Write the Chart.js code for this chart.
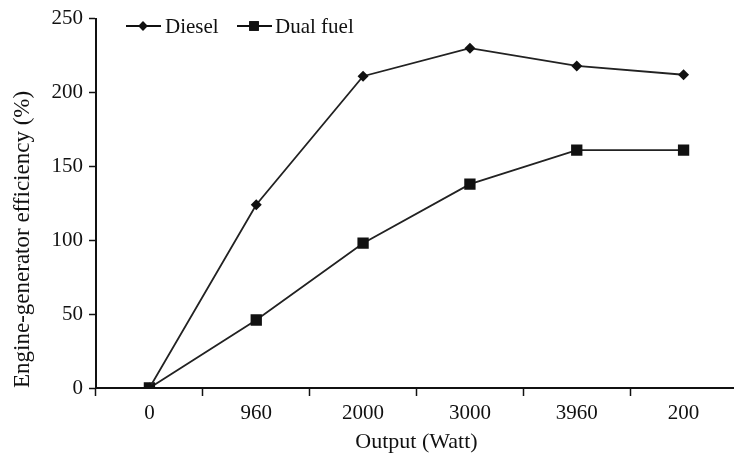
<!DOCTYPE html>
<html>
<head>
<meta charset="utf-8">
<script src="https://cdn.jsdelivr.net/npm/chart.js@4.4.0/dist/chart.umd.min.js"></script>
<style>
  html, body { margin: 0; padding: 0; background: #fff; overflow: hidden; }
  #wrap { width: 745px; height: 461px; }
</style>
</head>
<body>
<div id="wrap"><canvas id="effChart" width="745" height="461"></canvas></div>
<script>
// data
const outputs = ['0', '960', '2000', '3000', '3960', '200'];
const dieselEff = [0, 124, 211, 230, 218, 212];
const dualFuelEff = [0, 46, 98, 138, 161, 161];
const yTicks = [0, 50, 100, 150, 200, 250];

const ink = '#111';
const font = 'Liberation Serif, Times New Roman, serif';

// legend drawn inside the plot: line + marker + label
const insideLegend = {
    id: 'insideLegend',
    afterDraw(chart) {
        const ctx = chart.ctx;
        const y = 26;
        const items = [
            { x: 126, ds: chart.data.datasets[0], textX: 165 },
            { x: 237, ds: chart.data.datasets[1], textX: 275 }
        ];
        ctx.save();
        items.forEach(item => {
            ctx.strokeStyle = ink;
            ctx.lineWidth = 1.8;
            ctx.beginPath();
            ctx.moveTo(item.x, y);
            ctx.lineTo(item.x + 35, y);
            ctx.stroke();
            ctx.fillStyle = ink;
            Chart.helpers.drawPoint(ctx, {
                pointStyle: item.ds.pointStyle,
                radius: item.ds.pointRadius * 0.85,
                rotation: 0,
                borderWidth: 0
            }, item.x + 17, y);
            ctx.fill();
            ctx.font = '21px ' + font;
            ctx.textBaseline = 'middle';
            ctx.textAlign = 'left';
            ctx.fillText(item.ds.label, item.textX, y + 1);
        });
        ctx.restore();
    }
};

new Chart(document.getElementById('effChart'), {
    type: 'line',
    data: {
        labels: outputs,
        datasets: [
            {
                label: 'Diesel',
                data: dieselEff,
                borderColor: '#222',
                borderWidth: 1.8,
                backgroundColor: ink,
                pointStyle: 'rectRot',
                pointRadius: 5.5,
                pointBorderWidth: 0,
                tension: 0
            },
            {
                label: 'Dual fuel',
                data: dualFuelEff,
                borderColor: '#222',
                borderWidth: 1.8,
                backgroundColor: ink,
                pointStyle: 'rect',
                pointRadius: 8,
                pointBorderWidth: 0,
                tension: 0
            }
        ]
    },
    options: {
        responsive: false,
        animation: false,
        layout: { padding: { top: 18, right: 4, left: 0, bottom: 0 } },
        plugins: {
            legend: { display: false },
            tooltip: { enabled: false }
        },
        scales: {
            x: {
                offset: true,
                afterFit: scale => { scale.height = 73; },
                grid: {
                    offset: true,
                    drawOnChartArea: false,
                    drawTicks: true,
                    tickLength: 8,
                    tickWidth: 1.5,
                    tickColor: ink
                },
                border: { color: ink, width: 2 },
                ticks: { color: ink, padding: 5, font: { family: font, size: 21 } },
                title: {
                    display: true,
                    text: 'Output (Watt)',
                    color: ink,
                    padding: { top: 0, bottom: 6 },
                    font: { family: font, size: 22 }
                }
            },
            y: {
                min: 0,
                max: 250,
                afterFit: scale => { scale.width = 96; },
                afterBuildTicks: scale => { scale.ticks = yTicks.map(v => ({ value: v })); },
                grid: {
                    drawOnChartArea: false,
                    drawTicks: true,
                    tickLength: 7,
                    tickWidth: 1.5,
                    tickColor: ink
                },
                border: { color: ink, width: 2 },
                ticks: { color: ink, padding: 6, font: { family: font, size: 21 } },
                title: {
                    display: true,
                    text: 'Engine-generator efficiency (%)',
                    align: 'start',
                    color: ink,
                    padding: { top: 9, bottom: 0 },
                    font: { family: font, size: 23 }
                }
            }
        }
    },
    plugins: [insideLegend]
});
</script>
</body>
</html>
